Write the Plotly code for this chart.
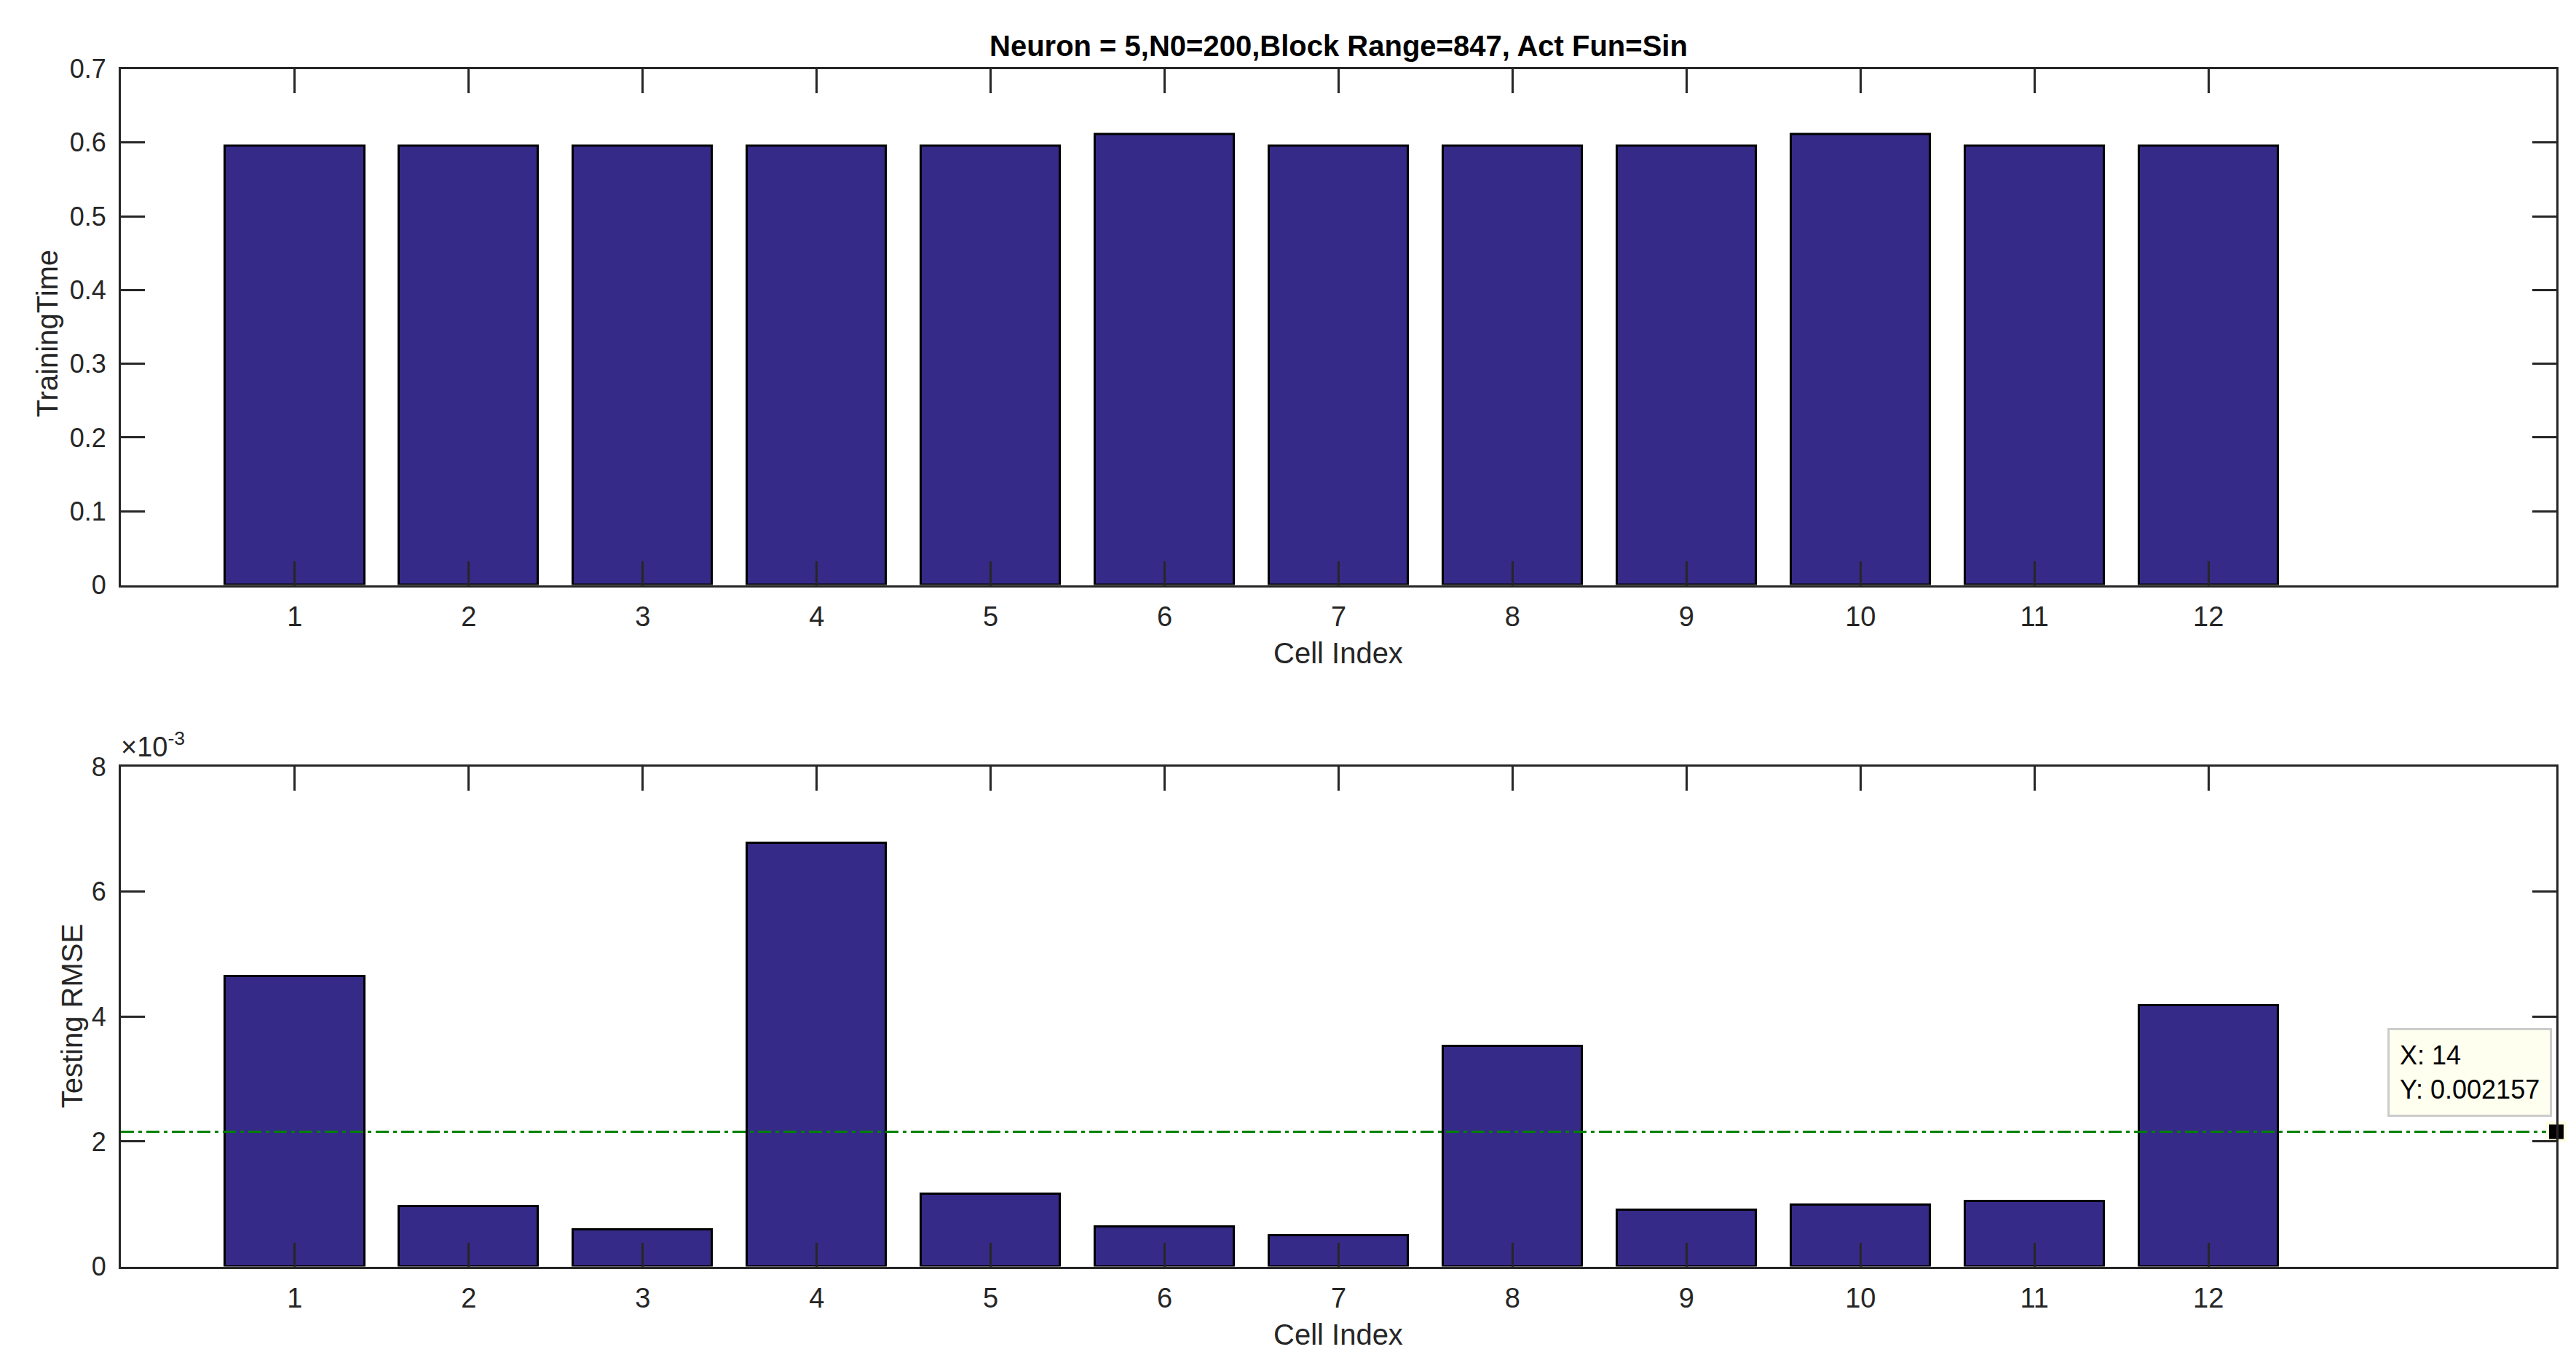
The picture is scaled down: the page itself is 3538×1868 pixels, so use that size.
import plotly.graph_objects as go

cells = list(range(1, 13))
training_time = [0.595, 0.595, 0.595, 0.595, 0.595, 0.611, 0.595, 0.595, 0.595, 0.611, 0.595, 0.595]
testing_rmse = [0.00464, 0.000957, 0.000587, 0.00678, 0.001163, 0.000634,
                0.000499, 0.00352, 0.000905, 0.000987, 0.001046, 0.004176]
mean_x = [0, 14]
mean_rmse = 0.002157
top_yticks = [0, 0.1, 0.2, 0.3, 0.4, 0.5, 0.6, 0.7]
top_yticklabels = ["0", "0.1", "0.2", "0.3", "0.4", "0.5", "0.6", "0.7"]
bot_yticks = [0, 0.002, 0.004, 0.006, 0.008]
bot_yticklabels = ["0", "2", "4", "6", "8"]

W, H = 3538, 1868
BAR = "#352A87"
AX = "#262626"
NARROW = "Liberation Sans Narrow, Arial Narrow, Liberation Sans, Arial"
SANS = "Liberation Sans, Arial"

def px(v):
    return v / W

def py(v):
    return 1 - v / H

fig = go.Figure()
fig.add_trace(go.Bar(x=cells, y=training_time, width=0.8, marker=dict(color=BAR, line=dict(color="black", width=3)),
                     xaxis="x", yaxis="y", showlegend=False))
fig.add_trace(go.Bar(x=cells, y=testing_rmse, width=0.8, marker=dict(color=BAR, line=dict(color="black", width=3)),
                     xaxis="x2", yaxis="y2", showlegend=False))
fig.add_trace(go.Scatter(x=mean_x, y=[mean_rmse, mean_rmse], mode="lines",
                         line=dict(color="#008000", width=3, dash="18px,6px,5px,6px"),
                         xaxis="x2", yaxis="y2", showlegend=False, cliponaxis=False))
fig.add_trace(go.Scatter(x=[mean_x[1]], y=[mean_rmse], mode="markers",
                         marker=dict(symbol="square", size=24, color="black", line=dict(color="#FFFFE0", width=4)),
                         xaxis="x2", yaxis="y2", showlegend=False, cliponaxis=False))

xd = [px(158), px(3503)]
axis_common = dict(showline=True, linecolor=AX, linewidth=3, mirror="ticks", ticks="inside",
                   ticklen=33, tickwidth=3, tickcolor=AX, showgrid=False, zeroline=False)

fig.update_layout(
    width=W, height=H, margin=dict(l=0, r=0, t=0, b=0),
    paper_bgcolor="white", plot_bgcolor="white", bargap=0,
    xaxis=dict(domain=xd, anchor="y", range=[0, 14], tickvals=cells, ticktext=[str(c) for c in cells],
               tickfont=dict(family=NARROW, size=38, color=AX), ticklabelstandoff=8, **axis_common),
    yaxis=dict(domain=[py(793), py(68)], anchor="x", range=[0, 0.7], tickvals=top_yticks, ticktext=top_yticklabels,
               tickfont=dict(family=SANS, size=36, color=AX), ticklabelstandoff=10, **axis_common),
    xaxis2=dict(domain=xd, anchor="y2", range=[0, 14], tickvals=cells, ticktext=[str(c) for c in cells],
                tickfont=dict(family=NARROW, size=38, color=AX), ticklabelstandoff=8, **axis_common),
    yaxis2=dict(domain=[py(1750), py(1048)], anchor="x2", range=[0, 0.008], tickvals=bot_yticks, ticktext=bot_yticklabels,
                tickfont=dict(family=SANS, size=36, color=AX), ticklabelstandoff=10, **axis_common),
)

ann = []
ann.append(dict(text="<b>Neuron = 5,N0=200,Block Range=847, Act Fun=Sin</b>", x=px(1830), y=py(36),
                xref="paper", yref="paper", showarrow=False, xanchor="center", yanchor="middle",
                font=dict(family=NARROW, size=40, color="black")))
ann.append(dict(text="Cell Index", x=px(1830), y=py(888), xref="paper", yref="paper", showarrow=False,
                xanchor="center", yanchor="middle", font=dict(family=NARROW, size=40, color=AX)))
ann.append(dict(text="Cell Index", x=px(1830), y=py(1845), xref="paper", yref="paper", showarrow=False,
                xanchor="center", yanchor="middle", font=dict(family=NARROW, size=40, color=AX)))
ann.append(dict(text="TrainingTime", x=px(57), y=py(440), xref="paper", yref="paper", showarrow=False,
                textangle=-90, xanchor="center", yanchor="middle", font=dict(family=NARROW, size=40, color=AX)))
ann.append(dict(text="Testing RMSE", x=px(91), y=py(1399), xref="paper", yref="paper", showarrow=False,
                textangle=-90, xanchor="center", yanchor="middle", font=dict(family=NARROW, size=40, color=AX)))
ann.append(dict(text="×10<sup>-3</sup>", x=px(156), y=py(1044), xref="paper", yref="paper", showarrow=False,
                xanchor="left", yanchor="bottom", font=dict(family=NARROW, size=38, color=AX)))
ann.append(dict(text="X: 14<br>Y: 0.002157", x=px(3497), y=py(1540), xref="paper", yref="paper", showarrow=False,
                xanchor="right", yanchor="bottom", align="left", bgcolor="#FFFFF0", bordercolor="#CCCCCC",
                borderwidth=3, borderpad=14, font=dict(family=SANS, size=36, color="black")))
fig.update_layout(annotations=ann)

fig.write_html("out.html")
